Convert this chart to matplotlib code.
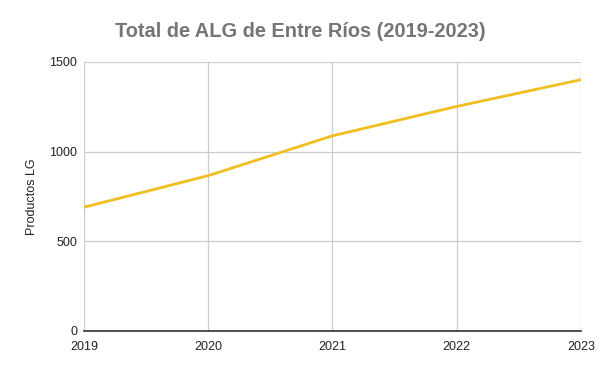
import matplotlib
matplotlib.use("Agg")
import matplotlib.pyplot as plt

years = [2019, 2020, 2021, 2022, 2023]
values = [690, 866, 1088, 1252, 1401]
yticks = [0, 500, 1000, 1500]

plt.rcParams['font.family'] = ['Liberation Sans', 'DejaVu Sans']

fig = plt.figure(figsize=(6, 3.71), dpi=100)
ax = fig.add_axes([0.14, 0.108, 0.828, 0.725])
ax.plot(years, values, color='#F0BE1E', linewidth=2, solid_capstyle='round', zorder=3)
ax.set_xlim(2019, 2023)
ax.set_ylim(0, 1500)
ax.set_xticks(years)
ax.set_yticks(yticks)
ax.grid(True, color='#cccccc', linewidth=0.9)
for s in ['top', 'right', 'left']:
    ax.spines[s].set_visible(False)
ax.spines['bottom'].set_color('#333333')
ax.spines['bottom'].set_linewidth(1.2)
ax.tick_params(length=0, labelsize=9, colors='#222222')
ax.tick_params(axis='y', pad=5)
ax.tick_params(axis='x', pad=7)
ax.set_ylabel('Productos LG', fontsize=9, color='#222222')
ax.yaxis.set_label_coords(-0.092, 0.5)
fig.text(0.5, 0.915, 'Total de ALG de Entre Ríos (2019-2023)', ha='center', va='center',
         fontsize=14.4, fontweight='bold', color='#757575')
fig.savefig('out.png', dpi=100, facecolor='white')
